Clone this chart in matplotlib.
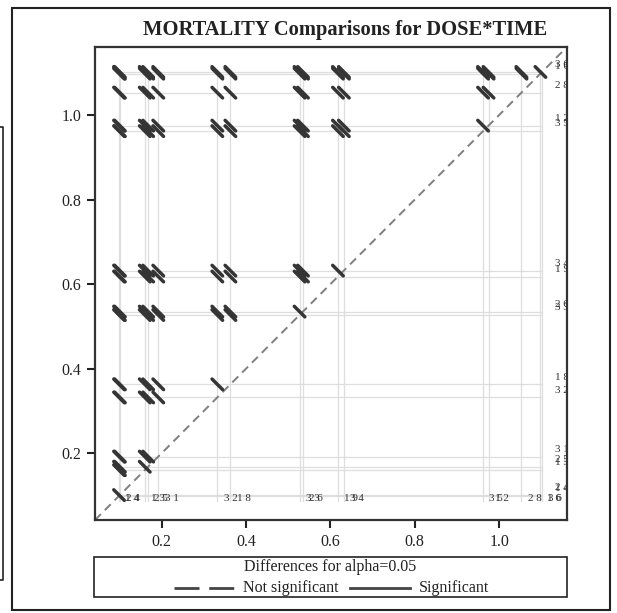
import matplotlib
matplotlib.use('Agg')
import matplotlib.pyplot as plt
from matplotlib.lines import Line2D
from matplotlib.patches import Rectangle

plt.rcParams['font.family'] = ['Liberation Serif', 'DejaVu Serif']
plt.rcParams['lines.scale_dashes'] = False

# LS-means of MORTALITY for each DOSE*TIME level
level_labels = ['1 4', '2 4', '1 3', '2 5', '3 1', '3 2', '1 8', '3 3',
                '2 6', '1 9', '3 4', '3 5', '1 2', '2 8', '1 6', '3 6']
lsmeans = [0.099, 0.101, 0.160, 0.168, 0.192, 0.332, 0.363, 0.527,
           0.535, 0.618, 0.632, 0.962, 0.975, 1.053, 1.098, 1.102]
ci_halfwidth = 0.025   # half-width of the 95% CI of a difference
axis_lims = (0.042, 1.161)
ticks = [0.2, 0.4, 0.6, 0.8, 1.0]

seg_color = '#353535'
ref_color = '#dedede'

fig = plt.figure(figsize=(6.17, 6.13), dpi=100)
W, H = 617, 613
ax = fig.add_axes([95 / W, 1 - 520 / H, (567 - 95) / W, (520 - 47) / H])
ax.set_xlim(axis_lims)
ax.set_ylim(axis_lims)

lo, hi = min(lsmeans), max(lsmeans)

# reference lines at every LS-mean
for m in lsmeans:
    ax.plot([m, m], [lo - 0.012, hi], color=ref_color, lw=0.9, zorder=1)
    ax.plot([lo, hi], [m, m], color=ref_color, lw=0.9, zorder=1)

# diagonal
ax.plot(axis_lims, axis_lims, color='#7f7f7f', lw=1.4,
        linestyle=(0, (6, 4)), zorder=2)

# one segment per pair of levels
order = sorted(range(len(lsmeans)), key=lambda k: lsmeans[k])
for a in range(len(order)):
    for b in range(a + 1, len(order)):
        x0 = lsmeans[order[a]]
        y0 = lsmeans[order[b]]
        h = ci_halfwidth / 2
        sig = abs(y0 - x0) > ci_halfwidth
        ls = '-' if sig else (0, (30, 4))
        ax.plot([x0 - h, x0 + h], [y0 + h, y0 - h], color=seg_color,
                lw=2.5, linestyle=ls, solid_capstyle='round',
                dash_capstyle='round', zorder=3)

# level labels along the bottom and the right
for lab, m in zip(level_labels, lsmeans):
    ax.text(m + 0.015, lo - 0.011, lab, fontsize=8, ha='left',
            va='baseline', color='#333333', zorder=4, clip_on=True)
    ax.text(hi + 0.030, m + 0.011, lab, fontsize=8, ha='left',
            va='baseline', color='#333333', zorder=4, clip_on=True)

ax.set_xticks(ticks)
ax.set_yticks(ticks)
ax.set_xticklabels(['%.1f' % t for t in ticks])
ax.set_yticklabels(['%.1f' % t for t in ticks])
ax.tick_params(direction='out', length=6, width=1.5, labelsize=11.5,
               pad=4, colors='#222222')
for s in ax.spines.values():
    s.set_linewidth(1.6)
    s.set_color('#333333')

fig.text(345 / W, 1 - 30 / H, 'MORTALITY Comparisons for DOSE*TIME',
         fontsize=14.8, fontweight='bold', ha='center', va='center',
         color='#222222')

# legend box
fig.patches.append(Rectangle((94 / W, 1 - 597 / H), (567 - 94) / W, 40 / H,
                             transform=fig.transFigure, fill=False,
                             edgecolor='#222222', lw=1.2))
fig.text(330 / W, 1 - 567 / H, 'Differences for alpha=0.05', fontsize=11.5,
         ha='center', va='center', color='#222222')
ly = 1 - 588 / H
fig.lines.append(Line2D([174 / W, 234 / W], [ly, ly], transform=fig.transFigure,
                        color='#444444', lw=2, linestyle=(0, (18, 7))))
fig.text(243 / W, ly, 'Not significant', fontsize=11.5, ha='left',
         va='center', color='#222222')
fig.lines.append(Line2D([350 / W, 410 / W], [ly, ly], transform=fig.transFigure,
                        color='#444444', lw=2))
fig.text(419 / W, ly, 'Significant', fontsize=11.5, ha='left',
         va='center', color='#222222')

# outer frame and the edge of the neighbouring panel
fig.patches.append(Rectangle((12 / W, 1 - 610 / H), (610 - 12) / W, 602 / H,
                             transform=fig.transFigure, fill=False,
                             edgecolor='#222222', lw=1.5))
fig.lines.append(Line2D([0, 3 / W, 3 / W, 0],
                        [1 - 127 / H, 1 - 127 / H, 1 - 580 / H, 1 - 580 / H],
                        transform=fig.transFigure, color='#222222', lw=1.2))

fig.savefig('out.png', dpi=100)
